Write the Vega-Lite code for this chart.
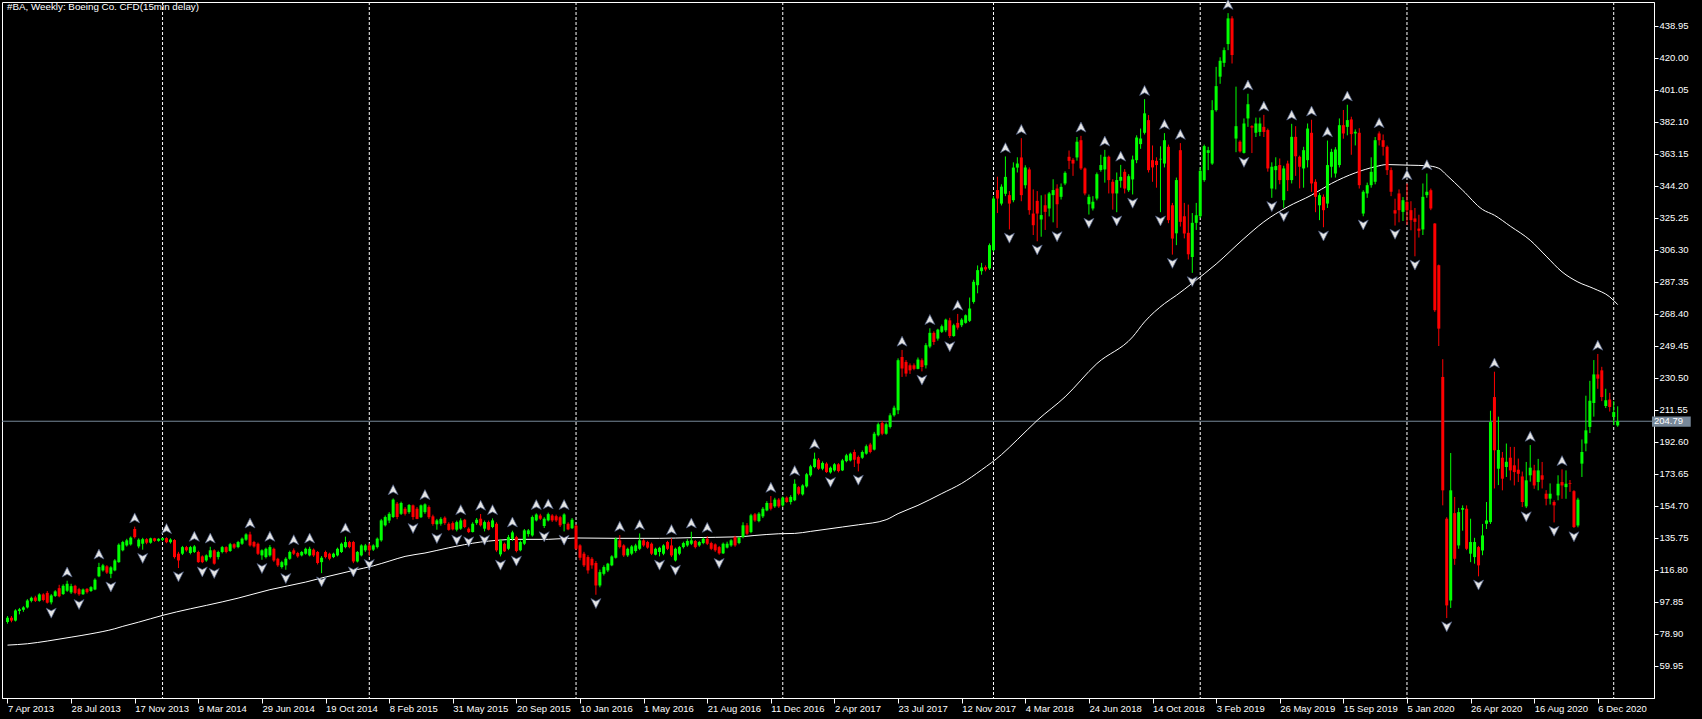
{
"$schema":"https://vega.github.io/schema/vega-lite/v6.json",
"width":1652,"height":696,
"autosize":{"type":"none"},
"padding":{"left":2,"top":2,"right":48,"bottom":21},
"background":"#000000",
"config":{"view":{"stroke":"#ffffff","strokeWidth":1,"fill":"#000000"},"font":"Liberation Sans","axis":{"labelOverlap":false}},
"title":{"text":"#BA, Weekly:  Boeing Co. CFD(15min delay)","anchor":"start","frame":"group","orient":"top","offset":-14,"baseline":"top","color":"#ffffff","fontSize":9.8,"fontWeight":"normal","font":"Liberation Sans","dx":5},
"datasets":{
"sep":[{"i":39},{"i":91},{"i":143},{"i":195},{"i":248},{"i":300},{"i":352},{"i":404}],
"last":[{"p":204.79}],
"ma":[{"i":0,"v":72.3},{"i":5,"v":73.1},{"i":10,"v":74.7},{"i":16,"v":77.0},{"i":21,"v":79.0},{"i":27,"v":82.0},{"i":29,"v":83.4},{"i":33,"v":85.9},{"i":39,"v":89.9},{"i":46,"v":93.8},{"i":50,"v":95.8},{"i":58,"v":100.1},{"i":66,"v":105.1},{"i":75,"v":109.6},{"i":80,"v":112.6},{"i":87,"v":116.5},{"i":92,"v":119.2},{"i":96,"v":122.0},{"i":100,"v":124.8},{"i":105,"v":126.8},{"i":111,"v":129.9},{"i":119,"v":133.3},{"i":123,"v":134.3},{"i":128,"v":134.9},{"i":136,"v":134.9},{"i":143,"v":135.7},{"i":153,"v":135.5},{"i":164,"v":135.5},{"i":172,"v":135.9},{"i":184,"v":136.4},{"i":188,"v":137.2},{"i":194,"v":138.2},{"i":198,"v":138.4},{"i":202,"v":139.6},{"i":210,"v":142.2},{"i":214,"v":143.5},{"i":221,"v":146.5},{"i":224,"v":150.1},{"i":229,"v":155.0},{"i":235,"v":162.0},{"i":240,"v":168.0},{"i":245,"v":176.0},{"i":250,"v":185.0},{"i":254,"v":193.9},{"i":259,"v":205.3},{"i":266,"v":219.2},{"i":274,"v":238.9},{"i":283,"v":254.7},{"i":286,"v":263.6},{"i":291,"v":274.4},{"i":294,"v":279.3},{"i":298,"v":286.5},{"i":304,"v":297.8},{"i":311,"v":312.9},{"i":316,"v":322.8},{"i":322,"v":331.7},{"i":328,"v":338.6},{"i":333,"v":345.5},{"i":339,"v":351.8},{"i":344,"v":355.4},{"i":347,"v":356.7},{"i":350,"v":356.5},{"i":353,"v":356.3},{"i":357,"v":356.0},{"i":360,"v":354.5},{"i":362,"v":350.4},{"i":366,"v":341.5},{"i":371,"v":330.1},{"i":374,"v":326.7},{"i":378,"v":320.2},{"i":383,"v":311.9},{"i":387,"v":302.5},{"i":391,"v":293.2},{"i":395,"v":287.2},{"i":399,"v":283.3},{"i":403,"v":278.4},{"i":405,"v":273.8}],
"bars":[
{"i":0,"o":86.0,"h":89.5,"l":85.0,"c":88.5},
{"i":1,"o":88.5,"h":89.5,"l":85.8,"c":86.8},
{"i":2,"o":86.8,"h":93.5,"l":86.3,"c":92.8},
{"i":3,"o":92.5,"h":94.3,"l":90.5,"c":93.5},
{"i":4,"o":93.2,"h":95.3,"l":92.0,"c":94.6},
{"i":5,"o":94.6,"h":99.5,"l":94.0,"c":98.7},
{"i":6,"o":98.5,"h":101.0,"l":97.6,"c":100.3},
{"i":7,"o":100.5,"h":101.5,"l":97.8,"c":98.5},
{"i":8,"o":98.5,"h":103.0,"l":98.0,"c":102.3},
{"i":9,"o":102.3,"h":103.0,"l":98.2,"c":99.0},
{"i":10,"o":103.2,"h":104.3,"l":96.9,"c":97.4},
{"i":11,"o":97.6,"h":102.5,"l":96.4,"c":101.7,"d":1},
{"i":12,"o":101.4,"h":104.8,"l":100.8,"c":104.1},
{"i":13,"o":106.0,"h":108.0,"l":100.6,"c":101.2},
{"i":14,"o":102.5,"h":108.3,"l":102.0,"c":107.4},
{"i":15,"o":104.5,"h":110.4,"l":103.8,"c":108.6,"u":1},
{"i":16,"o":103.5,"h":108.6,"l":102.6,"c":107.2},
{"i":17,"o":107.4,"h":108.0,"l":102.4,"c":103.2},
{"i":18,"o":105.4,"h":106.2,"l":101.5,"c":102.4,"d":1},
{"i":19,"o":102.4,"h":105.8,"l":102.0,"c":105.2},
{"i":20,"o":105.6,"h":106.0,"l":102.8,"c":103.6},
{"i":21,"o":104.3,"h":107.2,"l":103.8,"c":106.6},
{"i":22,"o":105.2,"h":111.8,"l":104.8,"c":111.0},
{"i":23,"o":113.0,"h":121.0,"l":112.5,"c":118.5,"u":1},
{"i":24,"o":116.5,"h":120.4,"l":115.8,"c":119.5},
{"i":25,"o":118.9,"h":119.6,"l":114.4,"c":115.2},
{"i":26,"o":114.5,"h":119.0,"l":111.9,"c":118.3,"d":1},
{"i":27,"o":116.5,"h":123.2,"l":116.0,"c":122.4},
{"i":28,"o":121.4,"h":132.5,"l":121.0,"c":131.7},
{"i":29,"o":128.4,"h":134.0,"l":127.8,"c":133.3},
{"i":30,"o":131.3,"h":135.2,"l":130.6,"c":134.3},
{"i":31,"o":131.9,"h":136.6,"l":131.2,"c":135.9},
{"i":32,"o":141.0,"h":142.4,"l":135.4,"c":136.2,"u":1},
{"i":33,"o":130.7,"h":135.5,"l":129.6,"c":134.7},
{"i":34,"o":132.3,"h":135.8,"l":128.8,"c":135.0,"d":1},
{"i":35,"o":135.0,"h":135.6,"l":132.0,"c":132.9},
{"i":36,"o":132.9,"h":135.9,"l":132.3,"c":135.5},
{"i":37,"o":135.5,"h":135.8,"l":133.4,"c":134.0},
{"i":38,"o":134.0,"h":135.6,"l":133.5,"c":135.2},
{"i":39,"o":134.6,"h":135.9,"l":133.9,"c":135.6},
{"i":40,"o":135.6,"h":136.1,"l":132.6,"c":133.2,"u":1},
{"i":41,"o":133.2,"h":135.5,"l":132.4,"c":134.8},
{"i":42,"o":134.5,"h":135.0,"l":123.5,"c":124.4},
{"i":43,"o":126.4,"h":127.5,"l":117.9,"c":122.4,"d":1},
{"i":44,"o":126.4,"h":131.0,"l":125.6,"c":130.3},
{"i":45,"o":130.3,"h":131.0,"l":127.6,"c":128.4},
{"i":46,"o":126.8,"h":131.0,"l":126.0,"c":130.3},
{"i":47,"o":127.4,"h":131.5,"l":126.8,"c":130.7,"u":1},
{"i":48,"o":127.4,"h":128.2,"l":121.0,"c":121.4},
{"i":49,"o":124.8,"h":125.4,"l":120.8,"c":121.4,"d":1},
{"i":50,"o":122.4,"h":126.0,"l":121.6,"c":125.4},
{"i":51,"o":124.4,"h":130.5,"l":123.6,"c":128.4,"u":1},
{"i":52,"o":128.4,"h":129.0,"l":119.9,"c":120.5,"d":1},
{"i":53,"o":124.4,"h":128.2,"l":123.0,"c":127.4},
{"i":54,"o":127.4,"h":131.0,"l":126.6,"c":130.3},
{"i":55,"o":130.3,"h":130.8,"l":126.6,"c":127.4},
{"i":56,"o":128.0,"h":132.8,"l":127.5,"c":132.0},
{"i":57,"o":132.0,"h":132.6,"l":129.2,"c":130.0},
{"i":58,"o":130.3,"h":134.0,"l":129.6,"c":133.3},
{"i":59,"o":132.3,"h":136.0,"l":131.6,"c":135.3},
{"i":60,"o":134.7,"h":138.5,"l":134.0,"c":137.8},
{"i":61,"o":137.8,"h":139.4,"l":130.6,"c":131.3,"u":1},
{"i":62,"o":133.3,"h":134.0,"l":130.0,"c":130.7},
{"i":63,"o":132.3,"h":133.0,"l":125.6,"c":126.4},
{"i":64,"o":125.4,"h":129.0,"l":122.8,"c":128.4,"d":1},
{"i":65,"o":124.4,"h":130.0,"l":123.6,"c":129.3},
{"i":66,"o":125.4,"h":131.5,"l":124.6,"c":130.3,"u":1},
{"i":67,"o":129.3,"h":130.0,"l":121.6,"c":122.4},
{"i":68,"o":123.4,"h":124.0,"l":118.6,"c":119.5},
{"i":69,"o":118.5,"h":122.2,"l":117.6,"c":121.4},
{"i":70,"o":119.5,"h":124.3,"l":116.9,"c":123.4,"d":1},
{"i":71,"o":123.4,"h":128.2,"l":122.8,"c":127.4},
{"i":72,"o":128.4,"h":129.5,"l":125.6,"c":126.4,"u":1},
{"i":73,"o":126.8,"h":127.5,"l":124.0,"c":124.8},
{"i":74,"o":125.4,"h":128.0,"l":124.8,"c":127.4},
{"i":75,"o":126.4,"h":130.0,"l":125.8,"c":129.3},
{"i":76,"o":125.4,"h":130.5,"l":124.8,"c":129.3,"u":1},
{"i":77,"o":128.8,"h":129.5,"l":124.5,"c":125.4},
{"i":78,"o":127.4,"h":128.0,"l":120.0,"c":120.9},
{"i":79,"o":121.4,"h":125.0,"l":114.9,"c":124.0,"d":1},
{"i":80,"o":127.4,"h":128.2,"l":123.6,"c":124.4},
{"i":81,"o":126.4,"h":127.0,"l":122.5,"c":123.4},
{"i":82,"o":124.4,"h":127.0,"l":123.8,"c":126.4},
{"i":83,"o":125.4,"h":130.0,"l":124.8,"c":129.3},
{"i":84,"o":127.4,"h":133.0,"l":126.8,"c":132.3},
{"i":85,"o":130.3,"h":136.5,"l":129.6,"c":133.3,"u":1},
{"i":86,"o":133.3,"h":134.0,"l":129.6,"c":130.3},
{"i":87,"o":133.3,"h":134.0,"l":120.8,"c":121.8,"d":1},
{"i":88,"o":121.8,"h":128.0,"l":121.2,"c":127.4},
{"i":89,"o":125.4,"h":132.0,"l":124.8,"c":131.3},
{"i":90,"o":128.4,"h":132.2,"l":127.5,"c":131.3},
{"i":91,"o":131.3,"h":132.5,"l":125.2,"c":128.4,"d":1},
{"i":92,"o":128.8,"h":132.0,"l":128.0,"c":131.3},
{"i":93,"o":130.3,"h":136.0,"l":129.5,"c":135.3},
{"i":94,"o":134.3,"h":147.0,"l":133.5,"c":146.1},
{"i":95,"o":143.2,"h":149.0,"l":142.5,"c":148.1},
{"i":96,"o":146.0,"h":151.0,"l":144.5,"c":150.0},
{"i":97,"o":148.1,"h":159.1,"l":147.5,"c":158.4,"u":1},
{"i":98,"o":156.0,"h":157.0,"l":146.8,"c":148.1},
{"i":99,"o":150.0,"h":157.2,"l":149.3,"c":156.4},
{"i":100,"o":153.0,"h":154.0,"l":149.0,"c":150.0},
{"i":101,"o":151.0,"h":155.8,"l":150.0,"c":155.2},
{"i":102,"o":155.0,"h":155.5,"l":146.5,"c":148.1,"d":1},
{"i":103,"o":153.0,"h":154.0,"l":146.8,"c":147.0},
{"i":104,"o":148.0,"h":155.5,"l":147.5,"c":155.0},
{"i":105,"o":151.0,"h":156.2,"l":150.0,"c":155.6,"u":1},
{"i":106,"o":154.0,"h":155.0,"l":147.0,"c":148.0},
{"i":107,"o":148.5,"h":149.5,"l":143.0,"c":144.0},
{"i":108,"o":143.8,"h":147.0,"l":140.6,"c":146.1,"d":1},
{"i":109,"o":144.1,"h":148.0,"l":143.0,"c":147.0},
{"i":110,"o":147.7,"h":148.5,"l":143.5,"c":144.5},
{"i":111,"o":144.1,"h":145.0,"l":140.0,"c":140.5},
{"i":112,"o":144.5,"h":145.5,"l":140.2,"c":140.8},
{"i":113,"o":140.6,"h":146.0,"l":139.6,"c":145.1,"d":1},
{"i":114,"o":141.2,"h":147.3,"l":140.5,"c":146.1,"u":1},
{"i":115,"o":146.5,"h":147.0,"l":141.5,"c":142.2},
{"i":116,"o":141.2,"h":142.0,"l":138.6,"c":139.2,"d":1},
{"i":117,"o":139.2,"h":145.0,"l":139.0,"c":144.1},
{"i":118,"o":144.5,"h":147.5,"l":143.5,"c":146.5},
{"i":119,"o":147.1,"h":149.9,"l":142.5,"c":143.2,"u":1},
{"i":120,"o":141.2,"h":146.0,"l":139.6,"c":145.1,"d":1},
{"i":121,"o":145.1,"h":146.0,"l":140.2,"c":140.6},
{"i":122,"o":142.2,"h":147.3,"l":141.5,"c":146.1,"u":1},
{"i":123,"o":144.1,"h":145.0,"l":127.5,"c":128.4},
{"i":124,"o":126.0,"h":135.0,"l":124.8,"c":134.3,"d":1},
{"i":125,"o":132.3,"h":133.0,"l":127.4,"c":127.8},
{"i":126,"o":129.3,"h":137.5,"l":128.5,"c":136.2},
{"i":127,"o":135.2,"h":140.0,"l":134.0,"c":139.0,"u":1},
{"i":128,"o":136.2,"h":137.0,"l":127.2,"c":128.0,"d":1},
{"i":129,"o":128.4,"h":134.2,"l":127.8,"c":133.3},
{"i":130,"o":132.3,"h":141.0,"l":131.5,"c":140.2},
{"i":131,"o":138.0,"h":141.0,"l":136.5,"c":140.2},
{"i":132,"o":137.2,"h":149.0,"l":136.5,"c":148.1},
{"i":133,"o":146.1,"h":150.3,"l":145.5,"c":149.6,"u":1},
{"i":134,"o":149.0,"h":150.0,"l":146.3,"c":147.1},
{"i":135,"o":142.8,"h":148.0,"l":141.6,"c":147.1,"d":1},
{"i":136,"o":146.1,"h":150.7,"l":145.5,"c":149.8,"u":1},
{"i":137,"o":149.0,"h":149.8,"l":145.2,"c":146.1},
{"i":138,"o":148.6,"h":149.5,"l":145.2,"c":146.1},
{"i":139,"o":148.0,"h":148.8,"l":142.2,"c":143.2},
{"i":140,"o":144.1,"h":150.3,"l":139.6,"c":149.6,"u":1,"d":1},
{"i":141,"o":144.1,"h":145.0,"l":140.3,"c":140.8},
{"i":142,"o":141.5,"h":147.5,"l":141.0,"c":146.5},
{"i":143,"o":143.0,"h":143.8,"l":128.5,"c":129.3},
{"i":144,"o":131.3,"h":132.0,"l":122.5,"c":124.0},
{"i":145,"o":126.4,"h":127.5,"l":118.5,"c":119.5},
{"i":146,"o":124.4,"h":125.5,"l":114.6,"c":116.5},
{"i":147,"o":123.4,"h":124.4,"l":117.5,"c":119.5},
{"i":148,"o":120.9,"h":122.0,"l":102.1,"c":107.6,"d":1},
{"i":149,"o":107.6,"h":117.0,"l":106.5,"c":115.5},
{"i":150,"o":114.5,"h":119.5,"l":113.5,"c":118.5},
{"i":151,"o":116.5,"h":121.0,"l":115.5,"c":120.5},
{"i":152,"o":119.5,"h":125.5,"l":119.0,"c":124.8},
{"i":153,"o":124.0,"h":136.0,"l":123.5,"c":135.2},
{"i":154,"o":134.3,"h":137.4,"l":129.5,"c":130.3,"u":1},
{"i":155,"o":131.3,"h":132.0,"l":124.5,"c":125.4},
{"i":156,"o":125.4,"h":130.0,"l":124.5,"c":129.3},
{"i":157,"o":126.4,"h":131.5,"l":125.5,"c":130.7},
{"i":158,"o":128.0,"h":132.3,"l":127.0,"c":131.3},
{"i":159,"o":129.3,"h":138.4,"l":128.5,"c":134.3,"u":1},
{"i":160,"o":134.3,"h":135.0,"l":130.5,"c":131.3},
{"i":161,"o":133.3,"h":134.0,"l":129.3,"c":130.0},
{"i":162,"o":132.3,"h":133.0,"l":125.6,"c":126.4},
{"i":163,"o":125.8,"h":130.0,"l":125.4,"c":129.3},
{"i":164,"o":127.4,"h":130.5,"l":124.8,"c":129.9,"d":1},
{"i":165,"o":126.4,"h":132.0,"l":125.5,"c":131.3},
{"i":166,"o":133.3,"h":134.0,"l":128.5,"c":129.3},
{"i":167,"o":131.3,"h":135.5,"l":124.5,"c":125.4,"u":1},
{"i":168,"o":122.4,"h":130.0,"l":121.8,"c":129.3,"d":1},
{"i":169,"o":126.4,"h":131.0,"l":125.5,"c":130.3},
{"i":170,"o":130.3,"h":133.5,"l":129.5,"c":132.7},
{"i":171,"o":131.3,"h":135.0,"l":130.5,"c":133.9},
{"i":172,"o":132.3,"h":139.4,"l":131.5,"c":134.3,"u":1},
{"i":173,"o":133.9,"h":134.5,"l":129.5,"c":130.3},
{"i":174,"o":131.3,"h":134.0,"l":130.5,"c":133.3},
{"i":175,"o":132.7,"h":136.0,"l":132.0,"c":135.2},
{"i":176,"o":135.2,"h":136.8,"l":131.5,"c":132.3,"u":1},
{"i":177,"o":132.7,"h":133.5,"l":128.5,"c":129.3},
{"i":178,"o":131.9,"h":132.5,"l":127.5,"c":128.4},
{"i":179,"o":130.3,"h":131.0,"l":125.8,"c":126.6,"d":1},
{"i":180,"o":126.6,"h":133.0,"l":126.2,"c":132.3},
{"i":181,"o":130.0,"h":133.5,"l":129.5,"c":132.3},
{"i":182,"o":131.3,"h":135.0,"l":130.5,"c":134.3},
{"i":183,"o":136.2,"h":137.0,"l":130.5,"c":131.3},
{"i":184,"o":132.7,"h":136.5,"l":132.0,"c":135.9},
{"i":185,"o":136.2,"h":145.0,"l":135.5,"c":143.2},
{"i":186,"o":143.2,"h":144.5,"l":137.5,"c":138.2},
{"i":187,"o":139.2,"h":150.0,"l":138.5,"c":149.1},
{"i":188,"o":149.7,"h":150.5,"l":145.3,"c":146.1},
{"i":189,"o":145.7,"h":151.0,"l":145.0,"c":150.1},
{"i":190,"o":148.5,"h":154.0,"l":147.5,"c":153.0},
{"i":191,"o":152.0,"h":157.5,"l":151.5,"c":156.4},
{"i":192,"o":156.4,"h":160.5,"l":152.0,"c":153.0,"u":1},
{"i":193,"o":154.4,"h":159.5,"l":153.5,"c":158.4},
{"i":194,"o":158.4,"h":159.3,"l":153.5,"c":154.4},
{"i":195,"o":155.0,"h":160.3,"l":154.2,"c":159.6},
{"i":196,"o":159.6,"h":160.3,"l":156.5,"c":157.0},
{"i":197,"o":157.0,"h":161.0,"l":155.5,"c":160.0},
{"i":198,"o":158.0,"h":170.4,"l":157.5,"c":167.8,"u":1},
{"i":199,"o":165.8,"h":166.5,"l":161.0,"c":161.9},
{"i":200,"o":161.5,"h":167.5,"l":160.8,"c":166.8},
{"i":201,"o":166.2,"h":174.2,"l":165.5,"c":173.4},
{"i":202,"o":172.8,"h":179.0,"l":172.0,"c":178.1},
{"i":203,"o":177.7,"h":186.2,"l":177.0,"c":182.6,"u":1},
{"i":204,"o":182.0,"h":183.0,"l":176.0,"c":176.7},
{"i":205,"o":176.7,"h":181.0,"l":175.8,"c":180.1},
{"i":206,"o":179.7,"h":180.5,"l":174.2,"c":174.7},
{"i":207,"o":174.5,"h":178.0,"l":173.8,"c":177.3,"d":1},
{"i":208,"o":175.7,"h":180.0,"l":175.0,"c":179.3},
{"i":209,"o":179.3,"h":180.0,"l":174.5,"c":175.3},
{"i":210,"o":175.7,"h":182.5,"l":175.3,"c":181.6},
{"i":211,"o":181.2,"h":185.5,"l":180.5,"c":184.6},
{"i":212,"o":181.6,"h":186.3,"l":181.0,"c":185.6},
{"i":213,"o":186.6,"h":188.0,"l":177.7,"c":182.0},
{"i":214,"o":183.6,"h":184.5,"l":175.1,"c":179.7,"d":1},
{"i":215,"o":183.2,"h":187.5,"l":182.5,"c":186.6},
{"i":216,"o":185.6,"h":191.0,"l":185.0,"c":190.0},
{"i":217,"o":191.0,"h":192.0,"l":185.8,"c":186.6},
{"i":218,"o":188.0,"h":198.5,"l":187.5,"c":197.4},
{"i":219,"o":196.5,"h":204.0,"l":195.8,"c":203.0},
{"i":220,"o":203.8,"h":205.0,"l":196.5,"c":197.4},
{"i":221,"o":197.4,"h":204.0,"l":196.8,"c":203.0},
{"i":222,"o":201.4,"h":209.5,"l":200.5,"c":208.3},
{"i":223,"o":208.3,"h":214.0,"l":207.5,"c":212.8},
{"i":224,"o":211.3,"h":242.0,"l":209.0,"c":240.9},
{"i":225,"o":242.8,"h":247.0,"l":231.0,"c":236.0,"u":1},
{"i":226,"o":239.9,"h":241.0,"l":231.2,"c":233.0},
{"i":227,"o":237.9,"h":239.0,"l":232.8,"c":234.9},
{"i":228,"o":237.9,"h":239.0,"l":235.0,"c":235.8},
{"i":229,"o":235.8,"h":242.5,"l":235.5,"c":241.3},
{"i":230,"o":240.9,"h":242.0,"l":234.3,"c":236.9,"d":1},
{"i":231,"o":237.9,"h":251.0,"l":236.0,"c":249.8},
{"i":232,"o":249.0,"h":259.8,"l":248.0,"c":257.1,"u":1},
{"i":233,"o":257.1,"h":258.0,"l":250.0,"c":251.7},
{"i":234,"o":253.7,"h":259.5,"l":252.5,"c":259.0},
{"i":235,"o":257.7,"h":262.0,"l":257.0,"c":261.0},
{"i":236,"o":258.6,"h":265.5,"l":257.5,"c":264.9},
{"i":237,"o":264.5,"h":266.0,"l":254.1,"c":255.2,"d":1},
{"i":238,"o":255.2,"h":262.5,"l":254.8,"c":261.6},
{"i":239,"o":263.0,"h":268.3,"l":259.0,"c":260.2,"u":1},
{"i":240,"o":261.6,"h":265.8,"l":260.5,"c":264.9},
{"i":241,"o":263.0,"h":268.0,"l":262.5,"c":267.5},
{"i":242,"o":264.2,"h":278.0,"l":263.5,"c":271.5},
{"i":243,"o":275.4,"h":288.5,"l":274.4,"c":287.3},
{"i":244,"o":285.3,"h":297.0,"l":280.5,"c":294.2},
{"i":245,"o":293.6,"h":298.5,"l":291.5,"c":295.8},
{"i":246,"o":296.0,"h":297.0,"l":293.5,"c":294.6},
{"i":247,"o":295.2,"h":310.0,"l":294.3,"c":309.0},
{"i":248,"o":306.0,"h":338.0,"l":305.0,"c":336.6},
{"i":249,"o":341.6,"h":349.5,"l":328.0,"c":336.6},
{"i":250,"o":333.6,"h":345.0,"l":332.5,"c":343.6},
{"i":251,"o":339.4,"h":361.5,"l":338.0,"c":349.4,"u":1},
{"i":252,"o":338.6,"h":341.0,"l":318.3,"c":333.6,"d":1},
{"i":253,"o":335.6,"h":358.0,"l":334.4,"c":354.9},
{"i":254,"o":354.9,"h":361.0,"l":352.0,"c":357.3},
{"i":255,"o":360.9,"h":372.3,"l":335.0,"c":338.6,"u":1},
{"i":256,"o":344.5,"h":356.3,"l":342.5,"c":355.0},
{"i":257,"o":353.8,"h":355.0,"l":327.0,"c":329.7},
{"i":258,"o":327.7,"h":342.0,"l":315.0,"c":320.8},
{"i":259,"o":335.2,"h":341.0,"l":311.3,"c":327.7,"d":1},
{"i":260,"o":324.2,"h":338.5,"l":314.0,"c":326.8},
{"i":261,"o":332.6,"h":339.0,"l":318.0,"c":328.7},
{"i":262,"o":330.7,"h":340.5,"l":326.0,"c":339.6},
{"i":263,"o":338.6,"h":348.0,"l":322.5,"c":341.6},
{"i":264,"o":342.5,"h":345.0,"l":319.2,"c":333.2,"d":1},
{"i":265,"o":337.6,"h":345.5,"l":336.0,"c":343.5},
{"i":266,"o":345.5,"h":352.7,"l":344.5,"c":351.8},
{"i":267,"o":361.3,"h":365.0,"l":354.0,"c":358.9},
{"i":268,"o":359.5,"h":360.5,"l":350.0,"c":357.3},
{"i":269,"o":360.9,"h":373.0,"l":359.0,"c":370.2},
{"i":270,"o":371.1,"h":373.7,"l":353.5,"c":354.4,"u":1},
{"i":271,"o":354.4,"h":355.0,"l":338.5,"c":339.6},
{"i":272,"o":333.2,"h":339.0,"l":327.1,"c":337.6,"d":1},
{"i":273,"o":330.7,"h":338.0,"l":329.5,"c":334.7},
{"i":274,"o":336.6,"h":352.0,"l":335.5,"c":351.0},
{"i":275,"o":353.5,"h":362.5,"l":352.5,"c":356.4},
{"i":276,"o":353.8,"h":365.4,"l":346.0,"c":361.3,"u":1},
{"i":277,"o":361.3,"h":362.0,"l":339.6,"c":347.5},
{"i":278,"o":346.5,"h":348.0,"l":330.0,"c":339.6},
{"i":279,"o":339.6,"h":352.0,"l":328.5,"c":347.5,"d":1},
{"i":280,"o":347.1,"h":356.5,"l":343.0,"c":349.4,"u":1},
{"i":281,"o":352.4,"h":354.0,"l":339.6,"c":342.5},
{"i":282,"o":341.5,"h":351.0,"l":340.5,"c":349.8},
{"i":283,"o":347.9,"h":362.0,"l":339.0,"c":359.7,"d":1},
{"i":284,"o":359.3,"h":374.0,"l":357.5,"c":372.7},
{"i":285,"o":368.8,"h":378.0,"l":366.0,"c":372.1},
{"i":286,"o":375.5,"h":395.4,"l":374.5,"c":387.0,"u":1},
{"i":287,"o":383.0,"h":386.0,"l":352.0,"c":353.4},
{"i":288,"o":359.3,"h":368.0,"l":346.5,"c":355.0},
{"i":289,"o":358.9,"h":361.0,"l":343.0,"c":356.4},
{"i":290,"o":359.7,"h":367.5,"l":328.5,"c":360.1,"d":1},
{"i":291,"o":357.3,"h":375.3,"l":355.0,"c":371.1,"u":1},
{"i":292,"o":367.2,"h":368.5,"l":322.0,"c":323.8},
{"i":293,"o":332.6,"h":334.0,"l":303.4,"c":312.9,"d":1},
{"i":294,"o":316.0,"h":349.0,"l":309.0,"c":347.5},
{"i":295,"o":365.2,"h":369.4,"l":320.0,"c":322.8,"u":1},
{"i":296,"o":326.1,"h":334.0,"l":313.0,"c":315.9},
{"i":297,"o":316.3,"h":333.0,"l":300.5,"c":303.6},
{"i":298,"o":302.0,"h":328.0,"l":292.6,"c":322.2,"d":1},
{"i":299,"o":322.2,"h":334.0,"l":318.0,"c":326.7},
{"i":300,"o":326.1,"h":355.0,"l":325.0,"c":353.0},
{"i":301,"o":347.5,"h":368.5,"l":346.5,"c":367.6},
{"i":302,"o":363.6,"h":367.2,"l":353.4,"c":365.2},
{"i":303,"o":357.3,"h":394.8,"l":356.5,"c":388.9},
{"i":304,"o":388.9,"h":414.5,"l":388.0,"c":403.1},
{"i":305,"o":408.7,"h":420.2,"l":404.5,"c":418.1},
{"i":306,"o":416.9,"h":426.0,"l":414.5,"c":424.4},
{"i":307,"o":428.0,"h":446.3,"l":424.4,"c":443.2,"u":1},
{"i":308,"o":443.2,"h":444.5,"l":416.5,"c":421.5},
{"i":309,"o":372.1,"h":402.8,"l":364.0,"c":379.4},
{"i":310,"o":370.2,"h":371.0,"l":363.8,"c":364.5},
{"i":311,"o":363.6,"h":384.0,"l":363.2,"c":381.0,"d":1},
{"i":312,"o":384.0,"h":398.6,"l":379.0,"c":392.4,"u":1},
{"i":313,"o":379.4,"h":380.0,"l":363.5,"c":378.6},
{"i":314,"o":375.5,"h":384.5,"l":373.0,"c":381.0},
{"i":315,"o":376.0,"h":384.5,"l":373.5,"c":381.0},
{"i":316,"o":379.0,"h":386.1,"l":373.0,"c":376.0,"u":1},
{"i":317,"o":377.1,"h":378.0,"l":352.5,"c":354.4},
{"i":318,"o":342.5,"h":358.0,"l":337.0,"c":355.4,"d":1},
{"i":319,"o":353.4,"h":361.0,"l":342.0,"c":355.8},
{"i":320,"o":356.4,"h":360.3,"l":345.0,"c":347.5},
{"i":321,"o":335.6,"h":356.0,"l":331.1,"c":354.4,"d":1},
{"i":322,"o":357.3,"h":359.0,"l":341.0,"c":347.5},
{"i":323,"o":347.5,"h":380.8,"l":345.5,"c":373.1,"u":1},
{"i":324,"o":373.1,"h":379.4,"l":350.0,"c":361.6},
{"i":325,"o":361.3,"h":362.0,"l":342.6,"c":355.4},
{"i":326,"o":354.4,"h":367.2,"l":343.0,"c":365.2},
{"i":327,"o":359.3,"h":381.0,"l":355.0,"c":378.0},
{"i":328,"o":375.5,"h":383.2,"l":340.5,"c":345.5,"u":1},
{"i":329,"o":346.5,"h":348.0,"l":328.5,"c":337.6},
{"i":330,"o":332.6,"h":340.0,"l":323.8,"c":338.6},
{"i":331,"o":337.6,"h":339.0,"l":319.6,"c":329.7,"d":1},
{"i":332,"o":333.6,"h":370.9,"l":331.0,"c":356.4,"u":1},
{"i":333,"o":355.4,"h":366.0,"l":349.0,"c":364.2},
{"i":334,"o":351.4,"h":367.0,"l":349.0,"c":365.6},
{"i":335,"o":356.4,"h":384.0,"l":355.0,"c":380.0},
{"i":336,"o":380.0,"h":389.0,"l":372.0,"c":375.1},
{"i":337,"o":379.0,"h":392.1,"l":374.0,"c":383.0,"u":1},
{"i":338,"o":383.4,"h":385.0,"l":362.5,"c":374.7},
{"i":339,"o":375.1,"h":377.5,"l":368.0,"c":376.1},
{"i":340,"o":375.5,"h":378.2,"l":342.5,"c":344.5},
{"i":341,"o":327.7,"h":341.5,"l":326.1,"c":340.6,"d":1},
{"i":342,"o":339.6,"h":346.0,"l":337.0,"c":344.5},
{"i":343,"o":344.5,"h":361.0,"l":343.0,"c":352.4},
{"i":344,"o":346.5,"h":373.0,"l":345.0,"c":371.1},
{"i":345,"o":375.1,"h":376.3,"l":368.0,"c":371.1,"u":1},
{"i":346,"o":371.1,"h":374.5,"l":362.0,"c":367.2},
{"i":347,"o":367.2,"h":368.0,"l":350.5,"c":353.4},
{"i":348,"o":353.4,"h":355.0,"l":338.0,"c":340.6},
{"i":349,"o":329.7,"h":336.5,"l":320.6,"c":327.7,"d":1},
{"i":350,"o":339.6,"h":342.0,"l":322.5,"c":329.7},
{"i":351,"o":328.7,"h":337.5,"l":323.3,"c":335.6},
{"i":352,"o":334.6,"h":345.5,"l":321.0,"c":329.7,"u":1},
{"i":353,"o":329.7,"h":335.0,"l":317.8,"c":323.8},
{"i":354,"o":324.8,"h":331.0,"l":302.4,"c":322.8,"d":1},
{"i":355,"o":318.8,"h":327.0,"l":313.5,"c":317.5},
{"i":356,"o":318.3,"h":345.5,"l":315.0,"c":337.6},
{"i":357,"o":338.6,"h":351.4,"l":337.0,"c":340.6,"u":1},
{"i":358,"o":341.5,"h":342.5,"l":329.7,"c":330.7},
{"i":359,"o":321.8,"h":322.0,"l":269.5,"c":270.5},
{"i":360,"o":297.1,"h":297.5,"l":249.3,"c":259.6},
{"i":361,"o":231.0,"h":241.5,"l":155.0,"c":163.9},
{"i":362,"o":147.1,"h":148.0,"l":88.3,"c":95.8,"d":1},
{"i":363,"o":98.7,"h":186.0,"l":94.3,"c":163.9},
{"i":364,"o":150.4,"h":160.0,"l":119.8,"c":123.4},
{"i":365,"o":131.3,"h":153.5,"l":129.3,"c":151.0},
{"i":366,"o":152.4,"h":155.0,"l":140.0,"c":153.4},
{"i":367,"o":153.0,"h":155.0,"l":128.5,"c":129.3},
{"i":368,"o":126.4,"h":147.1,"l":121.4,"c":133.3},
{"i":369,"o":124.4,"h":135.8,"l":120.5,"c":133.3},
{"i":370,"o":130.3,"h":131.0,"l":113.0,"c":119.5,"d":1},
{"i":371,"o":128.3,"h":144.0,"l":125.5,"c":137.2},
{"i":372,"o":144.1,"h":157.0,"l":141.0,"c":146.1},
{"i":373,"o":145.1,"h":211.0,"l":144.0,"c":204.3},
{"i":374,"o":219.1,"h":234.1,"l":165.0,"c":187.6,"u":1},
{"i":375,"o":176.7,"h":207.5,"l":167.0,"c":187.8},
{"i":376,"o":183.2,"h":186.6,"l":163.9,"c":170.8},
{"i":377,"o":177.7,"h":191.6,"l":171.8,"c":180.8},
{"i":378,"o":183.2,"h":189.6,"l":169.8,"c":175.7},
{"i":379,"o":178.7,"h":189.6,"l":166.8,"c":174.7},
{"i":380,"o":176.1,"h":182.7,"l":168.8,"c":173.7},
{"i":381,"o":172.1,"h":175.0,"l":154.0,"c":157.0},
{"i":382,"o":154.4,"h":180.7,"l":153.4,"c":169.8,"d":1},
{"i":383,"o":172.8,"h":190.7,"l":169.0,"c":177.3,"u":1},
{"i":384,"o":175.7,"h":179.0,"l":164.8,"c":166.8},
{"i":385,"o":168.8,"h":182.5,"l":163.9,"c":175.7},
{"i":386,"o":172.8,"h":180.7,"l":165.0,"c":170.2},
{"i":387,"o":161.9,"h":164.0,"l":155.0,"c":158.9},
{"i":388,"o":159.0,"h":168.0,"l":155.5,"c":161.9},
{"i":389,"o":157.0,"h":158.0,"l":144.9,"c":155.0,"d":1},
{"i":390,"o":160.9,"h":172.8,"l":158.0,"c":167.8},
{"i":391,"o":168.8,"h":176.3,"l":158.9,"c":166.8,"u":1},
{"i":392,"o":165.8,"h":175.7,"l":158.9,"c":167.8},
{"i":393,"o":168.2,"h":170.0,"l":163.0,"c":167.8},
{"i":394,"o":163.4,"h":164.0,"l":141.6,"c":142.2,"d":1},
{"i":395,"o":143.1,"h":159.5,"l":142.0,"c":158.4},
{"i":396,"o":179.7,"h":194.0,"l":171.8,"c":186.6},
{"i":397,"o":191.6,"h":219.9,"l":187.0,"c":199.4},
{"i":398,"o":201.4,"h":228.7,"l":197.8,"c":216.9},
{"i":399,"o":215.6,"h":241.0,"l":207.5,"c":232.5},
{"i":400,"o":232.5,"h":244.6,"l":224.0,"c":230.0,"u":1},
{"i":401,"o":234.9,"h":237.0,"l":216.7,"c":219.1},
{"i":402,"o":213.8,"h":224.0,"l":212.6,"c":217.2},
{"i":403,"o":217.6,"h":221.6,"l":210.5,"c":213.2},
{"i":404,"o":207.3,"h":216.7,"l":202.5,"c":210.2},
{"i":405,"o":202.3,"h":213.6,"l":201.5,"c":204.79}
]},
"layer":[
{"data":{"name":"sep"},
 "mark":{"type":"rule","color":"#ffffff","strokeWidth":1,"strokeDash":[3,2]},
 "encoding":{"x":{"field":"i","type":"quantitative",
   "scale":{"domain":[-0.125,412.875],"nice":false,"zero":false},
   "axis":{"orient":"bottom","values":[0,16,32,48,64,80,96,112,128,144,160,176,192,208,224,240,256,272,288,304,320,336,352,368,384,400],"tickCount":60,
     "labelExpr":"timeFormat(datetime(2013,3,7+datum.value*7),'%-d %b %Y')",
     "labelAlign":"left","labelBaseline":"top","labelPadding":0,"labelColor":"#ffffff","labelFont":"Liberation Sans","labelFontSize":9.5,
     "tickColor":"#ffffff","tickSize":5,"domainColor":"#ffffff","grid":false,"title":null,"labelOverlap":false,"labelBound":false,"labelFlush":false}}}},
{"data":{"name":"last"},
 "mark":{"type":"rule","color":"#778899","strokeWidth":1},
 "encoding":{"y":{"field":"p","type":"quantitative",
   "scale":{"domain":[41.0,452.9],"nice":false,"zero":false},
   "axis":{"orient":"right","values":[59.95,78.9,97.85,116.8,135.75,154.7,173.65,192.6,211.55,230.5,249.45,268.4,287.35,306.3,325.25,344.2,363.15,382.1,401.05,420.0,438.95],"tickCount":60,
     "format":".2f","labelColor":"#ffffff","labelFont":"Liberation Sans","labelFontSize":9.5,"tickColor":"#ffffff","tickSize":4,"domainColor":"#ffffff","labelPadding":1,"grid":false,"title":null,"labelOverlap":false,"labelBound":false,"labelFlush":false}}}},
{"data":{"name":"ma"},
 "mark":{"type":"line","color":"#ffffff","strokeWidth":1,"interpolate":"monotone","clip":true},
 "encoding":{"x":{"field":"i","type":"quantitative"},"y":{"field":"v","type":"quantitative"}}},
{"data":{"name":"bars"},
 "mark":{"type":"rule","strokeWidth":1,"clip":true},
 "encoding":{"x":{"field":"i","type":"quantitative"},"y":{"field":"l","type":"quantitative"},"y2":{"field":"h"},
   "color":{"condition":{"test":"datum.c >= datum.o","value":"#00ff00"},"value":"#ff0000"}}},
{"data":{"name":"bars"},
 "mark":{"type":"bar","width":3,"clip":true},
 "encoding":{"x":{"field":"i","type":"quantitative"},"y":{"field":"o","type":"quantitative"},"y2":{"field":"c"},
   "color":{"condition":{"test":"datum.c >= datum.o","value":"#00ff00"},"value":"#ff0000"}}},
{"data":{"name":"bars"},
 "transform":[{"filter":"datum.u == 1"}],
 "mark":{"type":"point","shape":"M0,-1L0.95,0.9L0,0.4L-0.95,0.9Z","filled":true,"fill":"#e4e4e4","stroke":"#4a5a80","strokeWidth":0.7,"size":110,"opacity":1,"yOffset":-8.5},
 "encoding":{"x":{"field":"i","type":"quantitative"},"y":{"field":"h","type":"quantitative"}}},
{"data":{"name":"bars"},
 "transform":[{"filter":"datum.d == 1"}],
 "mark":{"type":"point","shape":"M0,1L0.95,-0.9L0,-0.4L-0.95,-0.9Z","filled":true,"fill":"#e4e4e4","stroke":"#4a5a80","strokeWidth":0.7,"size":110,"opacity":1,"yOffset":8.5},
 "encoding":{"x":{"field":"i","type":"quantitative"},"y":{"field":"l","type":"quantitative"}}},
{"data":{"name":"last"},
 "mark":{"type":"rect","color":"#778899","clip":false},
 "encoding":{"x":{"datum":413.625},"x2":{"datum":423.375},"y":{"datum":207.6},"y2":{"datum":201.6}}},
{"data":{"name":"last"},
 "mark":{"type":"text","color":"#ffffff","align":"left","baseline":"middle","dx":2,"font":"Liberation Sans","fontSize":9.5,"clip":false},
 "encoding":{"x":{"datum":413.625},"y":{"field":"p","type":"quantitative"},"text":{"field":"p","type":"quantitative","format":".2f"}}}
]
}
